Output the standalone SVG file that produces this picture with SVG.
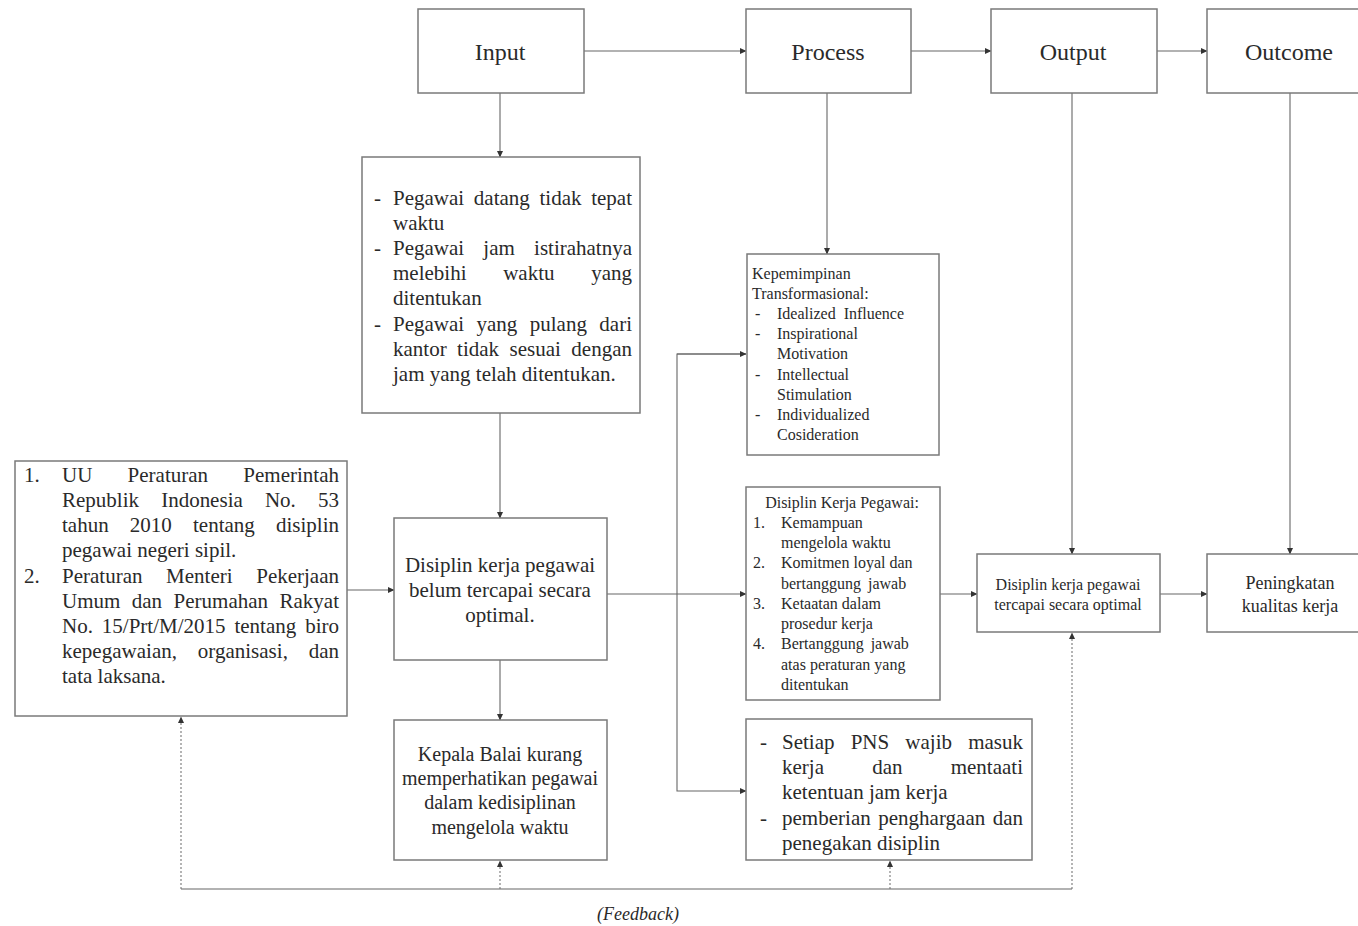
<svg xmlns="http://www.w3.org/2000/svg" width="1358" height="926" viewBox="0 0 1358 926">
<defs>
<marker id="ah" markerWidth="7" markerHeight="7" refX="6" refY="3.5" orient="auto" markerUnits="userSpaceOnUse"><path d="M0,0.5 L6.5,3.5 L0,6.5 z" fill="#333"/></marker>
<style>
.box{fill:#fff;stroke:#7a7a7a;stroke-width:1.5}
.ln{fill:none;stroke:#666;stroke-width:1.1}
.dot{fill:none;stroke:#777;stroke-width:1.1;stroke-dasharray:2 2}
text{font-family:"Liberation Serif","Times New Roman",serif;fill:#2a2a2a}
.t{font-size:24px;text-anchor:middle}
.b21{font-size:21px}
.b20{font-size:20px}
.s16{font-size:16px}
.c{text-anchor:middle}
</style>
</defs>
<rect width="1358" height="926" fill="#fff"/>

<g id="connectors">
<path class="ln" d="M584,51 H746" marker-end="url(#ah)"/>
<path class="ln" d="M911,51 H991" marker-end="url(#ah)"/>
<path class="ln" d="M1157,51 H1207" marker-end="url(#ah)"/>
<path class="ln" d="M500,93 V157" marker-end="url(#ah)"/>
<path class="ln" d="M827,93 V254" marker-end="url(#ah)"/>
<path class="ln" d="M1072,93 V554" marker-end="url(#ah)"/>
<path class="ln" d="M1290,93 V554" marker-end="url(#ah)"/>
<path class="ln" d="M500,413 V518" marker-end="url(#ah)"/>
<path class="ln" d="M347,590 H394" marker-end="url(#ah)"/>
<path class="ln" d="M500,660 V720" marker-end="url(#ah)"/>
<path class="ln" d="M607,594 H746" marker-end="url(#ah)"/>
<path class="ln" d="M746,354 H677 V791 H746" marker-end="url(#ah)"/>
<path class="ln" d="M677,354 H746" marker-end="url(#ah)"/>
<path class="ln" d="M940,594 H977" marker-end="url(#ah)"/>
<path class="ln" d="M1160,594 H1207" marker-end="url(#ah)"/>
<path class="ln" d="M181,889 H1072"/>
<path class="dot" d="M181,889 V717" marker-end="url(#ah)"/>
<path class="dot" d="M500,889 V861" marker-end="url(#ah)"/>
<path class="dot" d="M890,889 V861" marker-end="url(#ah)"/>
<path class="dot" d="M1072,889 V633" marker-end="url(#ah)"/>
</g>

<g id="input">
<rect class="box" x="418" y="9" width="166" height="84"/>
<text class="t" x="500" y="60">Input</text>
</g>
<g id="process">
<rect class="box" x="746" y="9" width="165" height="84"/>
<text class="t" x="828" y="60">Process</text>
</g>
<g id="output">
<rect class="box" x="991" y="9" width="166" height="84"/>
<text class="t" x="1073" y="60">Output</text>
</g>
<g id="outcome">
<rect class="box" x="1207" y="9" width="170" height="84"/>
<text class="t" x="1289" y="60">Outcome</text>
</g>

<g id="masalah">
<rect class="box" x="362" y="157" width="278" height="256"/>
<g class="b21">
<text x="374" y="205">-</text>
<text x="393" y="205" word-spacing="4.4" textLength="239" lengthAdjust="spacing">Pegawai datang tidak tepat</text>
<text x="393" y="230">waktu</text>
<text x="374" y="255">-</text>
<text x="393" y="255" word-spacing="14" textLength="239" lengthAdjust="spacing">Pegawai jam istirahatnya</text>
<text x="393" y="280" word-spacing="31.4" textLength="239" lengthAdjust="spacing">melebihi waktu yang</text>
<text x="393" y="305">ditentukan</text>
<text x="374" y="331">-</text>
<text x="393" y="331" word-spacing="7.2" textLength="239" lengthAdjust="spacing">Pegawai yang pulang dari</text>
<text x="393" y="356" word-spacing="5.2" textLength="239" lengthAdjust="spacing">kantor tidak sesuai dengan</text>
<text x="393" y="381">jam yang telah ditentukan.</text>
</g>
</g>

<g id="regulasi">
<rect class="box" x="15" y="461" width="332" height="255"/>
<g class="b21">
<text x="24" y="482">1.</text>
<text x="62" y="482" word-spacing="30" textLength="277" lengthAdjust="spacing">UU Peraturan Pemerintah</text>
<text x="62" y="507" word-spacing="16.9" textLength="277" lengthAdjust="spacing">Republik Indonesia No. 53</text>
<text x="62" y="532" word-spacing="15.9" textLength="277" lengthAdjust="spacing">tahun 2010 tentang disiplin</text>
<text x="62" y="557">pegawai negeri sipil.</text>
<text x="24" y="583">2.</text>
<text x="62" y="583" word-spacing="18.4" textLength="277" lengthAdjust="spacing">Peraturan Menteri Pekerjaan</text>
<text x="62" y="608" word-spacing="6.2" textLength="277" lengthAdjust="spacing">Umum dan Perumahan Rakyat</text>
<text x="62" y="633" word-spacing="3.7" textLength="277" lengthAdjust="spacing">No. 15/Prt/M/2015 tentang biro</text>
<text x="62" y="658" word-spacing="15.5" textLength="277" lengthAdjust="spacing">kepegawaian, organisasi, dan</text>
<text x="62" y="683">tata laksana.</text>
</g>
</g>

<g id="disiplin-belum">
<rect class="box" x="394" y="518" width="213" height="142"/>
<g class="b21 c">
<text x="500" y="572">Disiplin kerja pegawai</text>
<text x="500" y="597">belum tercapai secara</text>
<text x="500" y="622">optimal.</text>
</g>
</g>

<g id="kepala-balai">
<rect class="box" x="394" y="720" width="213" height="140"/>
<g class="b20 c">
<text x="500" y="761">Kepala Balai kurang</text>
<text x="500" y="785">memperhatikan pegawai</text>
<text x="500" y="809">dalam kedisiplinan</text>
<text x="500" y="834">mengelola waktu</text>
</g>
</g>

<g id="kepemimpinan">
<rect class="box" x="747" y="254" width="192" height="201"/>
<g class="s16">
<text x="752" y="279">Kepemimpinan</text>
<text x="752" y="299">Transformasional:</text>
<text x="755" y="319">-</text>
<text x="777" y="319" word-spacing="4">Idealized Influence</text>
<text x="755" y="339">-</text>
<text x="777" y="339">Inspirational</text>
<text x="777" y="359">Motivation</text>
<text x="755" y="380">-</text>
<text x="777" y="380">Intellectual</text>
<text x="777" y="400">Stimulation</text>
<text x="755" y="420">-</text>
<text x="777" y="420">Individualized</text>
<text x="777" y="440">Cosideration</text>
</g>
</g>

<g id="disiplin-kerja">
<rect class="box" x="746" y="487" width="194" height="213"/>
<g class="s16">
<text class="c" x="842" y="508">Disiplin Kerja Pegawai:</text>
<text x="753" y="528">1.</text>
<text x="781" y="528">Kemampuan</text>
<text x="781" y="548">mengelola waktu</text>
<text x="753" y="568">2.</text>
<text x="781" y="568">Komitmen loyal dan</text>
<text x="781" y="589" word-spacing="3">bertanggung jawab</text>
<text x="753" y="609">3.</text>
<text x="781" y="609">Ketaatan dalam</text>
<text x="781" y="629">prosedur kerja</text>
<text x="753" y="649">4.</text>
<text x="781" y="649" word-spacing="3">Bertanggung jawab</text>
<text x="781" y="670">atas peraturan yang</text>
<text x="781" y="690">ditentukan</text>
</g>
</g>

<g id="aturan-pns">
<rect class="box" x="746" y="719" width="286" height="141"/>
<g class="b21">
<text x="760" y="749">-</text>
<text x="782" y="749" word-spacing="10.9" textLength="241" lengthAdjust="spacing">Setiap PNS wajib masuk</text>
<text x="782" y="774" word-spacing="43" textLength="241" lengthAdjust="spacing">kerja dan mentaati</text>
<text x="782" y="799">ketentuan jam kerja</text>
<text x="760" y="825">-</text>
<text x="782" y="825" word-spacing="2.1" textLength="241" lengthAdjust="spacing">pemberian penghargaan dan</text>
<text x="782" y="850">penegakan disiplin</text>
</g>
</g>

<g id="disiplin-tercapai">
<rect class="box" x="977" y="554" width="183" height="78"/>
<g class="s16 c">
<text x="1068" y="590">Disiplin kerja pegawai</text>
<text x="1068" y="610">tercapai secara optimal</text>
</g>
</g>

<g id="peningkatan">
<rect class="box" x="1207" y="554" width="170" height="78"/>
<g class="c" style="font-size:18px">
<text x="1290" y="589">Peningkatan</text>
<text x="1290" y="612">kualitas kerja</text>
</g>
</g>

<g id="feedback-label">
<text class="c" x="638" y="920" style="font-size:18px;font-style:italic">(Feedback)</text>
</g>
</svg>
